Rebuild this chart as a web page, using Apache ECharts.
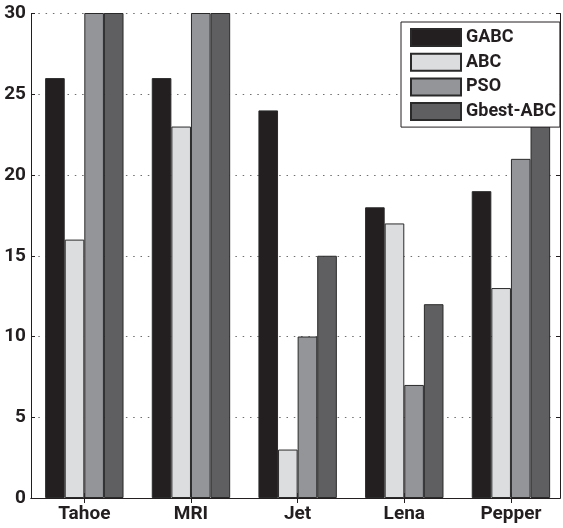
<!DOCTYPE html>
<html>
<head>
<meta charset="utf-8">
<script src="https://cdn.jsdelivr.net/npm/echarts@6/dist/echarts.min.js"></script>
<style>html,body{margin:0;padding:0;background:#fff}#c{width:563px;height:528px}</style>
</head>
<body>
<div id="c"></div>
<script>
const categories = ['Tahoe', 'MRI', 'Jet', 'Lena', 'Pepper'];
const seriesNames = ['GABC', 'ABC', 'PSO', 'Gbest-ABC'];
const GABC = [26, 26, 24, 18, 19];
const ABC = [16, 23, 3, 17, 13];
const PSO = [34, 35, 10, 7, 21];
const GbestABC = [36, 37, 15, 12, 26];
const yTicks = [0, 5, 10, 15, 20, 25, 30];

const FONT = "Roboto, 'Liberation Sans', sans-serif";
const colors = ['#231f20', '#dcdddf', '#939598', '#5f5f61'];
const values = [GABC, ABC, PSO, GbestABC];
const positions = categories.map((c, i) => i + 1);
const axisColor = '#231f20';

const chart = echarts.init(document.getElementById('c'), null, {renderer: 'canvas'});
chart.setOption({
  animation: false,
  backgroundColor: '#fff',
  grid: {left: 31, right: 3, top: 13.5, bottom: 30, containLabel: false},
  legend: {
    orient: 'vertical', left: 401, top: 22,
    itemWidth: 50, itemHeight: 17, itemGap: 5.7,
    padding: [6, 4, 6, 9],
    backgroundColor: '#fff', borderColor: axisColor, borderWidth: 1,
    icon: 'rect',
    textStyle: {fontFamily: FONT, fontWeight: 'bold', fontSize: 18, color: axisColor, lineHeight: 17},
    data: seriesNames
  },
  xAxis: [{
    type: 'value', min: 0.5, max: 5.46, position: 'bottom',
    axisLine: {show: true, lineStyle: {color: axisColor, width: 1}},
    axisTick: {show: true, inside: true, length: 5, customValues: positions, lineStyle: {color: axisColor}},
    axisLabel: {customValues: positions, margin: 7, formatter: v => categories[Math.round(v) - 1] || '',
      fontFamily: FONT, fontWeight: 'bold', fontSize: 19, color: axisColor},
    splitLine: {show: false}
  }, {
    type: 'value', min: 0.5, max: 5.46, position: 'top',
    axisLine: {show: true, lineStyle: {color: axisColor, width: 1}},
    axisTick: {show: true, inside: true, length: 5, customValues: positions, lineStyle: {color: axisColor}},
    axisLabel: {show: false},
    splitLine: {show: false}
  }],
  yAxis: [{
    type: 'value', min: 0, max: 30, interval: 5, position: 'left',
    axisLine: {show: true, lineStyle: {color: axisColor, width: 1}},
    axisTick: {show: true, inside: true, length: 4, lineStyle: {color: axisColor}},
    axisLabel: {margin: 5, fontFamily: FONT, fontWeight: 'bold', fontSize: 19, color: axisColor,
      formatter: v => yTicks.includes(v) ? String(v) : ''},
    splitLine: {show: true, lineStyle: {color: '#6d6d6d', width: 1, type: [1.5, 5.8]}}
  }, {
    type: 'value', min: 0, max: 30, interval: 5, position: 'right',
    axisLine: {show: true, lineStyle: {color: axisColor, width: 1}},
    axisTick: {show: true, inside: true, length: 4, lineStyle: {color: axisColor}},
    axisLabel: {show: false},
    splitLine: {show: false}
  }],
  series: seriesNames.map((name, s) => ({
    name: name, type: 'bar', xAxisIndex: 0, yAxisIndex: 0,
    barWidth: 19.6, barGap: '0%',
    clip: true,
    itemStyle: {color: colors[s], borderColor: '#2a2a2a', borderWidth: 1},
    data: positions.map((p, i) => [p, values[s][i]])
  }))
});
</script>
</body>
</html>
